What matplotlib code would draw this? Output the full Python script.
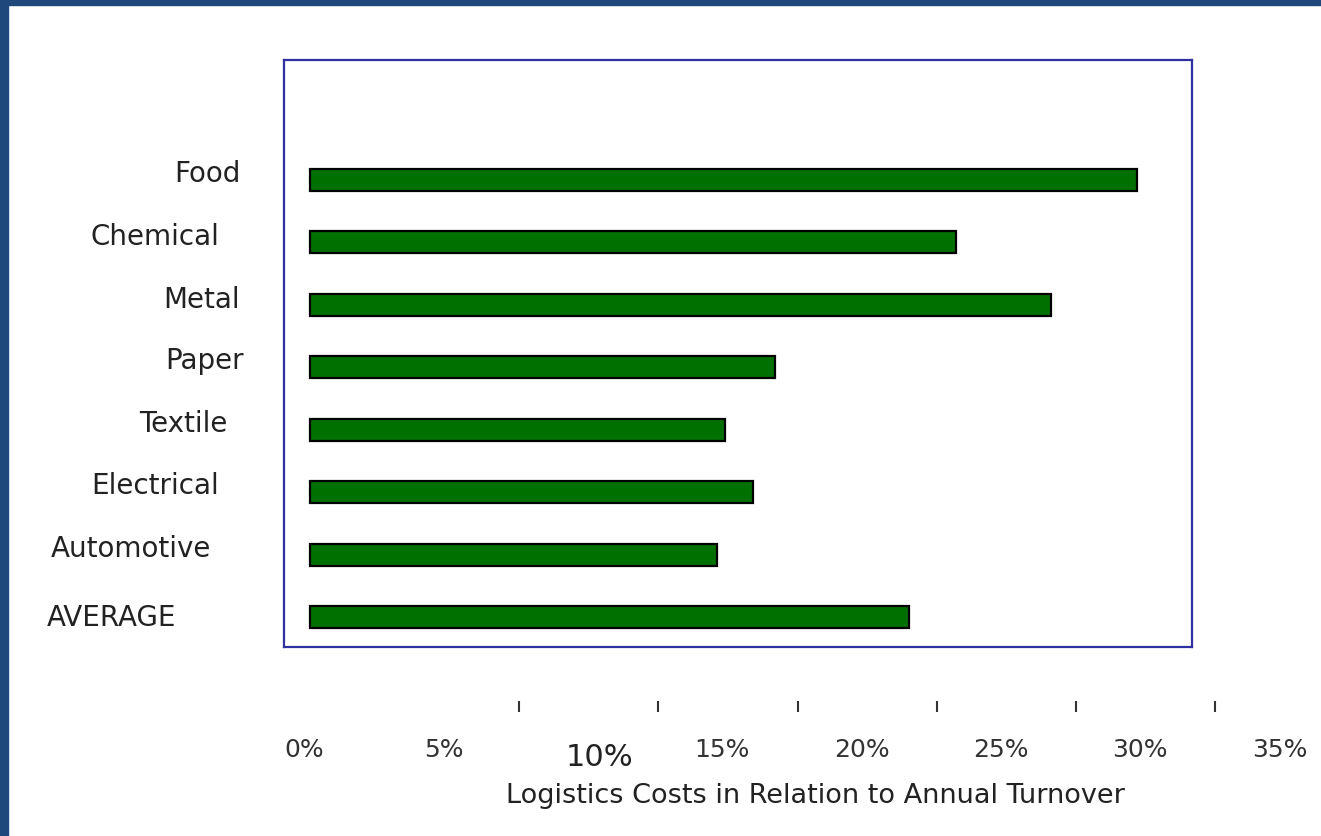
import matplotlib.pyplot as plt
from matplotlib.patches import Rectangle
import matplotlib.transforms as mtransforms

# data (percent of annual turnover)
categories = ['Food', 'Chemical', 'Metal', 'Paper', 'Textile',
              'Electrical', 'Automotive', 'AVERAGE']
values = [29.7, 23.2, 26.6, 16.7, 14.9, 15.9, 14.6, 21.5]
tick_values = [0, 5, 10, 15, 20, 25, 30, 35]
tick_labels = ['0%', '5%', '10%', '15%', '20%', '25%', '30%', '35%']
mark_values = [7.5, 12.5, 17.5, 22.5, 27.5, 32.5]

# layout of the category labels (figure x centre, y shift in bar units)
label_x = [0.1567, 0.1173, 0.1529, 0.1552, 0.1385, 0.1173, 0.0992, 0.0848]
label_dy = [0.11, 0.1, 0.1, 0.11, 0.11, 0.11, 0.1, 0.0]

plt.rcParams['font.family'] = ['DejaVu Sans']

fig = plt.figure(figsize=(13.21, 8.37), dpi=100)
fig.patch.set_facecolor('white')

# slide border (left and top bands)
fig.patches.append(Rectangle((0, 0), 8 / 1321, 1, transform=fig.transFigure,
                             color='#1f497d', zorder=0))
fig.patches.append(Rectangle((0, 1 - 6 / 837), 1, 6 / 837, transform=fig.transFigure,
                             color='#1f497d', zorder=0))

ax = fig.add_axes([0.2150, 0.2258, 0.6874, 0.7013])
ypos = list(range(len(categories) - 1, -1, -1))
ax.barh(ypos, values, height=0.35, color='#007000', edgecolor='black', linewidth=1.6)

ax.set_xlim(-0.93, 31.66)
ax.set_ylim(-0.48, 8.92)
ax.set_xticks([])
ax.set_yticks([])
for s in ax.spines.values():
    s.set_color('#3030a0')
    s.set_linewidth(1.6)

# category labels
trans_y = mtransforms.blended_transform_factory(fig.transFigure, ax.transData)
for name, y, lx, dy in zip(categories, ypos, label_x, label_dy):
    ax.text(lx, y + dy, name, transform=trans_y, ha='center', va='center',
            fontsize=20, color='#222222', clip_on=False)

# detached x scale below the box
trans_x = mtransforms.blended_transform_factory(ax.transData, fig.transFigure)
ax.vlines(mark_values, 1 - 713 / 837, 1 - 702 / 837, transform=trans_x,
          color='#333333', linewidth=1.5, clip_on=False)
for v, lab in zip(tick_values, tick_labels):
    if lab == '10%':
        ax.text(v + 0.4, 1 - 758 / 837, lab, transform=trans_x, ha='center',
                va='center', fontsize=22, color='#222222', clip_on=False)
    else:
        ax.text(v - 0.2, 1 - 750 / 837, lab, transform=trans_x, ha='center',
                va='center', fontsize=18, color='#333333', clip_on=False)

fig.text((458 + 1172) / 2 / 1321, 1 - 796 / 837,
         'Logistics Costs in Relation to Annual Turnover',
         ha='center', va='center', fontsize=19.5, color='#222222')

fig.savefig('out.png', dpi=100)
